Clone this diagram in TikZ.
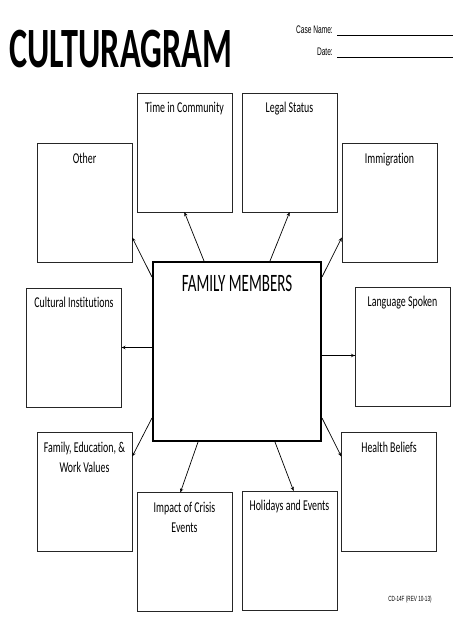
\documentclass[tikz,border=0pt]{standalone}
\usepackage{fontspec}
\setmainfont{Carlito}[Ligatures=CommonOff]
\newfontfamily\formfont{Liberation Sans}
\usetikzlibrary{decorations.markings}
\tikzstyle{panel}=[rectangle, draw=black!85, line width=0.8pt, minimum width=95pt, minimum height=119pt, inner sep=0pt]
\tikzstyle{heading}=[anchor=base, yshift=-20pt, inner sep=0pt, font=\fontsize{15}{20}\selectfont]
\newcommand{\panel}{\node[panel]}
\newcommand{\squeeze}[1]{\scalebox{0.66}[1]{#1}}

\begin{document}
\begin{tikzpicture}[x=1pt, y=-1pt,
    every edge/.style={
        draw, line width=0.7pt,
        postaction={decorate,
                    decoration={markings,mark=at position 1 with {\arrow[line width=0.6pt]{stealth}}}
                   }
        }
]
\useasboundingbox (0,0) rectangle (474,630);
% header
\node (title) [anchor=base west, inner sep=0pt] at (9,67) {\scalebox{0.6}[1]{\fontsize{57}{60}\selectfont\bfseries CULTURAGRAM}};
\node (casename) [anchor=base east, inner sep=0pt] at (333,33) {\formfont\fontsize{11}{13}\selectfont\scalebox{0.6}[1]{Case Name:}};
\node (date) [anchor=base east, inner sep=0pt] at (333,55) {\formfont\fontsize{11}{13}\selectfont\scalebox{0.6}[1]{Date:}};
\coordinate (name-a) at ([xshift=4pt,yshift=-2pt]casename.base east);
\coordinate (name-b) at ([xshift=120pt,yshift=-2pt]casename.base east);
\coordinate (date-a) at ([xshift=4pt,yshift=-2pt]date.base east);
\coordinate (date-b) at ([xshift=120pt,yshift=-2pt]date.base east);
\draw[line width=0.7pt] (name-a) -- (name-b);
\draw[line width=0.7pt] (date-a) -- (date-b);
% centre box
\node (family) at (237,351.5) [draw, line width=2pt, minimum width=168pt, minimum height=179pt,
    label={[anchor=base, yshift=-30pt, inner sep=0pt, font=\fontsize{25}{30}\selectfont]north:{\scalebox{0.6}[1]{FAMILY MEMBERS}}}] {};
% outer boxes
\panel (other) at (84.5,203) [label={[heading]north:{\squeeze{Other}}}] {};
\panel (time) at (184.5,152.5) [label={[heading]north:{\squeeze{Time in Community}}}] {};
\panel (legal) at (289.5,152.5) [label={[heading]north:{\squeeze{Legal Status}}}] {};
\panel (immigration) at (389.5,203) [label={[heading]north:{\squeeze{Immigration}}}] {};
\panel (cultural) at (74,347.5) [label={[heading]north:{\squeeze{Cultural Institutions}}}] {};
\panel (language) at (402.5,346.5) [label={[heading]north:{\squeeze{Language Spoken}}}] {};
\panel (values) at (84.5,492) [label={[heading]north:{\squeeze{\begin{tabular}[t]{@{}c@{}}Family, Education, \&\\Work Values\end{tabular}}}}] {};
\panel (health) at (389,492) [label={[heading]north:{\squeeze{Health Beliefs}}}] {};
\panel (crisis) at (184.5,552) [label={[heading]north:{\squeeze{\begin{tabular}[t]{@{}c@{}}Impact of Crisis\\Events\end{tabular}}}}] {};
\panel (holidays) at (289.5,550.5) [label={[heading]north:{\squeeze{Holidays and Events}}}] {};
\coordinate (lang-in) at ([yshift=-9pt]language.west);
\node (formno) [anchor=base, inner sep=0pt] at (410,601) {\formfont\fontsize{7.5}{9}\selectfont\scalebox{0.62}[1]{CD-14F (REV 10-13)}};
\path
([yshift=-16pt]family.north west) edge ([yshift=25pt]other.south east)
([xshift=52pt]family.north west) edge (time.south)
([xshift=-52pt]family.north east) edge (legal.south)
([yshift=-16pt]family.north east) edge ([yshift=25pt]immigration.south west)
(family.west |- cultural.east) edge (cultural.east)
(family.east |- lang-in) edge (lang-in)
([yshift=24pt]family.south west) edge ([yshift=-24pt]values.north east)
([yshift=24pt]family.south east) edge ([yshift=-24pt]health.north west)
([xshift=46pt]family.south west) edge ([xshift=-4pt]crisis.north)
([xshift=-47pt]family.south east) edge ([xshift=4pt]holidays.north)
;
\end{tikzpicture}
\end{document}
